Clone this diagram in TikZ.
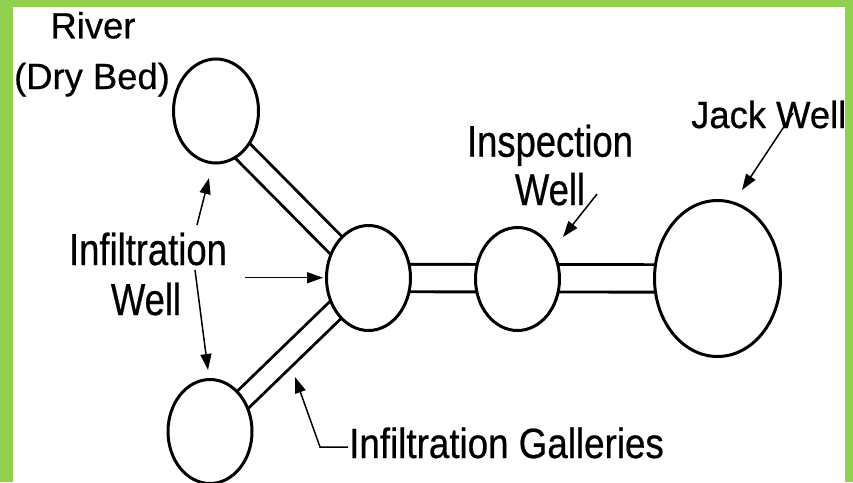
\documentclass[tikz,border=0pt]{standalone}
\usepackage{fontspec}
\setmainfont[Ligatures=NoCommon,FakeBold=0.6]{Liberation Sans}
\usetikzlibrary{shapes.geometric,arrows.meta,backgrounds}
\definecolor{bordergreen}{HTML}{92D050}
\begin{document}
\begin{tikzpicture}[x=1pt,y=-1pt,
  well/.style={draw=black, fill=white, ellipse, line width=3pt, inner sep=0pt},
  pipe/.style={draw=black, line width=2.9pt, double=white},
  lbl/.style={font=\fontsize{36.4}{40}\selectfont, inner sep=0pt, anchor=base},
  pointer/.style={line width=1.5pt, -{Triangle[length=16pt,width=11pt]}}]
\useasboundingbox (0,0) rectangle (853,482);
\clip (0,0) rectangle (853,482);
% wells
\node[well, minimum width=85pt, minimum height=104pt] (river) at (216,111) {};
\node[well, minimum width=84pt, minimum height=105pt] (hub) at (368.5,278) {};
\node[well, minimum width=84pt, minimum height=104pt] (bot) at (210,431.5) {};
\node[well, minimum width=84pt, minimum height=103pt] (insp) at (517.5,279) {};
\node[well, minimum width=126pt, minimum height=156pt] (jack) at (717.5,278.5) {};
% pipes and background
\begin{scope}[on background layer]
  \fill[bordergreen] (0,0) rectangle (853,482);
  \fill[white] (13,7) rectangle (845,482);
  \coordinate (rp) at (216,124);
  \draw[pipe, double distance=17.6pt] (hub.center) -- (rp);
  \draw[pipe, double distance=17pt] (hub.center) -- (bot.center);
  \draw[pipe, double distance=24.5pt] (hub.center) -- (jack.center);
\end{scope}
% labels
\node[lbl] (river1) at (93,38.3) {River};
\node[lbl] (river2) at (92,89) {(Dry Bed)};
\node[lbl] (inf1) at (148,265) {\scalebox{1}[1.23]{Infiltration}};
\node[lbl] (inf2) at (146,315) {\scalebox{1}[1.23]{Well}};
\node[lbl] (insp1) at (550,156.7) {\scalebox{1}[1.22]{Inspection}};
\node[lbl] (insp2) at (550,205) {\scalebox{1}[1.22]{Well}};
\node[lbl, anchor=base west] (jackl) at (691,128) {\scalebox{1}[1.04]{Jack Well}};
\node[lbl, anchor=base west] (gal) at (349,458) {\scalebox{1.01}[1.16]{Infiltration Galleries}};
% pointers
\coordinate (a1s) at (197,225); \coordinate (a1e) at (209,178);
\coordinate (a2s) at (195,270); \coordinate (a2e) at (208,370);
\coordinate (a3s) at (245,277.7); \coordinate (a3e) at (323,277.7);
\coordinate (a4s) at (348,447); \coordinate (a4m) at (320,447); \coordinate (a4e) at (295,377);
\coordinate (a5s) at (597,194); \coordinate (a5e) at (563,237);
\coordinate (a6s) at (793,113); \coordinate (a6e) at (742,190);
\draw[pointer] (a1s) -- (a1e);
\draw[pointer] (a2s) -- (a2e);
\draw[pointer] (a3s) -- (a3e);
\draw[pointer] (a4s) -- (a4m) -- (a4e);
\draw[pointer] (a5s) -- (a5e);
\draw[pointer] (a6s) -- (a6e);
\end{tikzpicture}
\end{document}
